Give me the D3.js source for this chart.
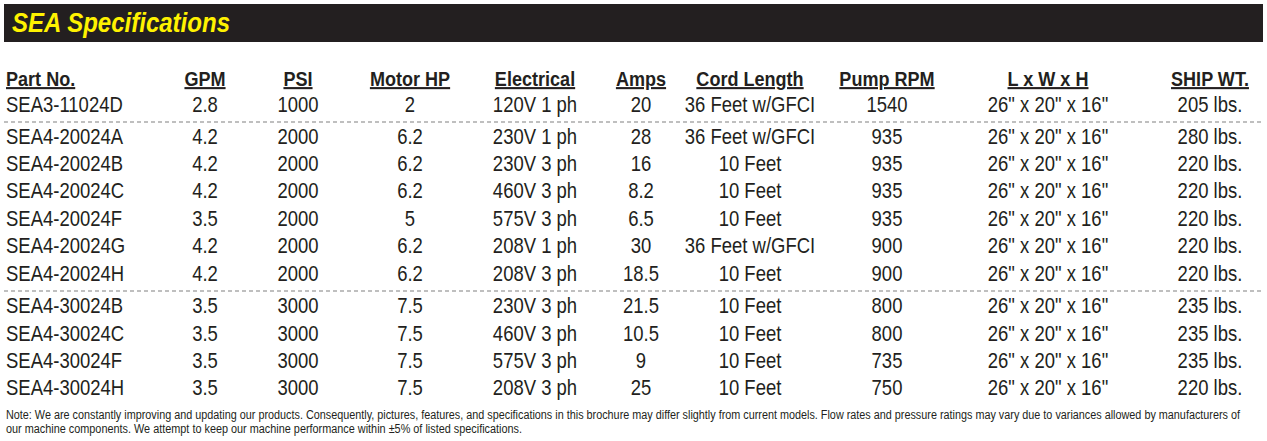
<!DOCTYPE html>
<html><head><meta charset="utf-8">
<script src="https://cdn.jsdelivr.net/npm/d3@7"></script>
<style>body{margin:0;background:#fff}</style></head>
<body><svg id="c" width="1267" height="441"></svg>
<script>
const title = "SEA Specifications";
const columns = ["Part No.","GPM","PSI","Motor HP","Electrical","Amps","Cord Length","Pump RPM","L x W x H","SHIP WT."];
const partNo = ["SEA3-11024D","SEA4-20024A","SEA4-20024B","SEA4-20024C","SEA4-20024F","SEA4-20024G","SEA4-20024H","SEA4-30024B","SEA4-30024C","SEA4-30024F","SEA4-30024H"];
const gpm = ["2.8","4.2","4.2","4.2","3.5","4.2","4.2","3.5","3.5","3.5","3.5"];
const psi = ["1000","2000","2000","2000","2000","2000","2000","3000","3000","3000","3000"];
const motorHP = ["2","6.2","6.2","6.2","5","6.2","6.2","7.5","7.5","7.5","7.5"];
const electrical = ["120V 1 ph","230V 1 ph","230V 3 ph","460V 3 ph","575V 3 ph","208V 1 ph","208V 3 ph","230V 3 ph","460V 3 ph","575V 3 ph","208V 3 ph"];
const amps = ["20","28","16","8.2","6.5","30","18.5","21.5","10.5","9","25"];
const cord = ["36 Feet w/GFCI","36 Feet w/GFCI","10 Feet","10 Feet","10 Feet","36 Feet w/GFCI","10 Feet","10 Feet","10 Feet","10 Feet","10 Feet"];
const rpm = ["1540","935","935","935","935","900","900","800","800","735","750"];
const dims = Array(11).fill('26" x 20" x 16"');
const shipWt = ["205 lbs.","280 lbs.","220 lbs.","220 lbs.","220 lbs.","220 lbs.","220 lbs.","235 lbs.","235 lbs.","235 lbs.","220 lbs."];
const note = ["Note: We are constantly improving and updating our products. Consequently, pictures, features, and specifications in this brochure may differ slightly from current models. Flow rates and pressure ratings may vary due to variances allowed by manufacturers of",
"our machine components. We attempt to keep our machine performance within ±5% of listed specifications."];

const cols = [partNo,gpm,psi,motorHP,electrical,amps,cord,rpm,dims,shipWt];
const colX = [6,205,298,410,535,641,750,887,1048,1210];
const F = "'Liberation Sans',Arial,sans-serif";
const SX = 0.86;
const svg = d3.select("#c");
svg.append("rect").attr("x",4).attr("y",4).attr("width",1259).attr("height",38).attr("fill","#231f20");
svg.append("text").attr("x",12).attr("y",32).attr("fill","#fff200").attr("font-family",F)
  .attr("font-size",27).attr("font-weight","bold").attr("font-style","italic")
  .attr("textLength",218).attr("lengthAdjust","spacingAndGlyphs").text(title);

svg.selectAll("text.h").data(columns).join("text").attr("class","h")
  .attr("transform",(d,i)=>`translate(${colX[i]},86) scale(${SX},1)`)
  .attr("text-anchor",(d,i)=>i?"middle":"start")
  .attr("font-family",F).attr("font-size",21).attr("font-weight","bold").attr("fill","#231f20")
  .attr("text-decoration","underline").text(d=>d);

const yPos = [112,144,171,198,226,253,281,313,341,368,395];
const yy = d3.scaleOrdinal().domain(d3.range(11)).range(yPos);

cols.forEach((arr,ci)=>{
  svg.selectAll("text.c"+ci).data(arr).join("text").attr("class","c"+ci)
    .attr("transform",(d,i)=>`translate(${colX[ci]},${yy(i)}) scale(${SX},1)`)
    .attr("text-anchor",ci?"middle":"start")
    .attr("font-family",F).attr("font-size",21.5).attr("fill","#231f20").text(d=>d);
});
[122,291].forEach(s=>svg.append("line").attr("x1",4).attr("x2",1264).attr("y1",s).attr("y2",s)
  .attr("stroke","#aaa").attr("stroke-width",1.3).attr("stroke-dasharray","4,3"));
const noteLen = [1234,516];
svg.selectAll("text.n").data(note).join("text").attr("class","n")
  .attr("x",6).attr("y",(d,i)=>419+i*14).attr("font-family",F).attr("font-size",12)
  .attr("textLength",(d,i)=>noteLen[i]).attr("lengthAdjust","spacingAndGlyphs")
  .attr("fill","#231f20").text(d=>d);
</script></body></html>
